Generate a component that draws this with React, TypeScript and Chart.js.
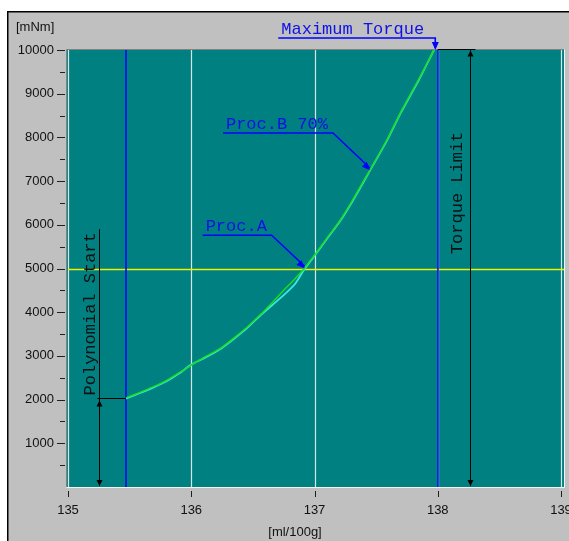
import React, { useEffect, useRef } from 'react';
import { Chart, registerables } from 'chart.js';

Chart.register(...registerables);

// ---- data ----
const xValues = [135.47, 135.58, 135.69, 135.8, 135.9, 136.0, 136.1, 136.23, 136.35, 136.45, 136.56, 136.66, 136.75, 136.84, 136.92, 137.02, 137.1, 137.21, 137.3, 137.4, 137.45, 137.58, 137.7, 137.85, 137.97];
const greenTorque = [2040, 2160, 2290, 2440, 2610, 2790, 2960, 3160, 3420, 3650, 3940, 4230, 4500, 4760, 5010, 5380, 5690, 6110, 6520, 7010, 7254, 7900, 8580, 9350, 10000];
const cyanTorque = [2020, 2145, 2275, 2420, 2595, 2800, 2940, 3145, 3400, 3630, 3925, 4170, 4390, 4640, 4990, 5365, 5675, 6095, 6500, 6990, 7240, 7885, 8560, 9330, 10000];

const xTickValues = [135, 136, 137, 138, 139];
const yTickValues = [0, 1000, 2000, 3000, 4000, 5000, 6000, 7000, 8000, 9000, 10000];
const yMinorStep = 500;

const thresholdTorque = 5000;
const blueMarkerX = [135.47, 138];

const calloutLabels = ['Maximum Torque', 'Proc.B 70%', 'Proc.A'];
const calloutX = [137.98, 137.45, 136.92];
const calloutY = [10000, 7254, 5005];

const polyStartLabel = 'Polynomial Start';
const polyStartX = 135.25;
const polyStartTop = 5900;
const polyStartLevel = 2040;

const torqueLimitLabel = 'Torque Limit';
const torqueLimitX = 138.26;
const torqueLimitLevel = 10000;
const torqueLimitTextY = 6730;

const yUnit = '[mNm]';
const xUnit = '[ml/100g]';

// ---- styles ----
const calloutElbow = [[0, -12], [-37, -37], [-33, -33]];
const calloutLength = [157, 110, 69];
const MONO = '17px "Liberation Mono", "DejaVu Sans Mono", monospace';

function pickSans() {
  const c = document.createElement('canvas').getContext('2d');
  if (!c) return { family: '"Liberation Sans", Arial, sans-serif', size: 13 };
  c.font = '16px "Liberation Sans Narrow", monospace';
  const a = c.measureText('10000 mNm').width;
  c.font = '16px monospace';
  const b = c.measureText('10000 mNm').width;
  if (Math.abs(a - b) > 0.5) return { family: '"Liberation Sans Narrow", Arial, sans-serif', size: 16 };
  return { family: '"Liberation Sans", Arial, sans-serif', size: 13 };
}

function arrowHead(ctx: CanvasRenderingContext2D, tx: number, ty: number, angle: number, len = 7, half = 3) {
  const c = Math.cos(angle), s = Math.sin(angle);
  ctx.beginPath();
  ctx.moveTo(tx, ty);
  ctx.lineTo(tx - len * c + half * s, ty - len * s - half * c);
  ctx.lineTo(tx - len * c - half * s, ty - len * s + half * c);
  ctx.closePath();
  ctx.fill();
}

export default function App() {
  const ref = useRef<HTMLCanvasElement | null>(null);

  useEffect(() => {
    const canvas = ref.current;
    if (!canvas) return;
    const sans = pickSans();
    const sansFont = `${sans.size}px ${sans.family}`;

    const framePlugin = {
      id: 'frame',
      beforeDraw(chart: any) {
        const { ctx, chartArea: a } = chart;
        const W = chart.width, H = chart.height;
        ctx.save();
        ctx.fillStyle = '#ffffff';
        ctx.fillRect(0, 0, W, H);
        ctx.fillStyle = '#c0c0c0';
        ctx.fillRect(8, 12, W - 8, H - 12);
        ctx.fillStyle = '#000000';
        ctx.fillRect(7, 11, W - 7, 1.5);
        ctx.fillRect(7, 11, 1.5, H - 11);
        // plot area
        ctx.fillStyle = '#008080';
        ctx.fillRect(a.left - 1, a.top, a.right - a.left + 4, a.bottom - a.top);
        ctx.lineWidth = 1;
        ctx.strokeStyle = '#808080';
        ctx.beginPath();
        ctx.moveTo(a.left - 1.5, a.bottom);
        ctx.lineTo(a.left - 1.5, a.top - 0.5);
        ctx.lineTo(a.right + 3, a.top - 0.5);
        ctx.stroke();
        ctx.strokeStyle = '#f4f4f4';
        ctx.beginPath();
        ctx.moveTo(a.left - 1.5, a.bottom + 0.5);
        ctx.lineTo(a.right + 3.5, a.bottom + 0.5);
        ctx.lineTo(a.right + 3.5, a.top - 0.5);
        ctx.stroke();
        ctx.restore();
      },
      beforeDatasetsDraw(chart: any) {
        const { ctx, chartArea: a, scales } = chart;
        const x = scales.x, y = scales.y;
        ctx.save();
        // vertical grid lines
        ctx.strokeStyle = '#d8e4e4';
        ctx.lineWidth = 1.2;
        xTickValues.forEach((v) => {
          const px = Math.round(x.getPixelForValue(v)) + 0.5;
          ctx.beginPath();
          ctx.moveTo(px, a.top);
          ctx.lineTo(px, a.bottom);
          ctx.stroke();
        });
        // threshold line
        const py = Math.round(y.getPixelForValue(thresholdTorque)) + 0.5;
        ctx.strokeStyle = '#f0f000';
        ctx.lineWidth = 1.5;
        ctx.beginPath();
        ctx.moveTo(a.left, py);
        ctx.lineTo(a.right + 3, py);
        ctx.stroke();
        // blue markers
        ctx.strokeStyle = '#0000ff';
        ctx.lineWidth = 1.5;
        blueMarkerX.forEach((v) => {
          const px = Math.round(x.getPixelForValue(v));
          ctx.beginPath();
          ctx.moveTo(px, a.top);
          ctx.lineTo(px, a.bottom);
          ctx.stroke();
        });
        // y tick marks
        ctx.strokeStyle = '#202020';
        ctx.lineWidth = 1;
        for (let v = yMinorStep; v <= 10000; v += yMinorStep) {
          const ty = Math.round(y.getPixelForValue(v)) + 0.5;
          const major = v % 1000 === 0;
          ctx.beginPath();
          ctx.moveTo(a.left - (major ? 11 : 8), ty);
          ctx.lineTo(a.left - 3, ty);
          ctx.stroke();
        }
        // x tick marks
        xTickValues.forEach((v) => {
          const tx = Math.round(x.getPixelForValue(v)) + 0.5;
          ctx.beginPath();
          ctx.moveTo(tx, a.bottom + 4);
          ctx.lineTo(tx, a.bottom + 10);
          ctx.stroke();
        });
        ctx.restore();
      },
      afterDatasetsDraw(chart: any) {
        const { ctx, chartArea: a, scales } = chart;
        const x = scales.x, y = scales.y;
        ctx.save();
        // callouts
        ctx.font = MONO;
        ctx.textBaseline = 'alphabetic';
        ctx.textAlign = 'left';
        calloutLabels.forEach((label, i) => {
          const tx = x.getPixelForValue(calloutX[i]);
          const ty = y.getPixelForValue(calloutY[i]);
          const ex = tx + calloutElbow[i][0];
          const ey = ty + calloutElbow[i][1];
          const lx = ex - calloutLength[i];
          ctx.strokeStyle = '#0000ff';
          ctx.fillStyle = '#0000ff';
          ctx.lineWidth = 1.6;
          ctx.beginPath();
          ctx.moveTo(lx, ey);
          ctx.lineTo(ex, ey);
          ctx.lineTo(tx, ty - 2);
          ctx.stroke();
          arrowHead(ctx, tx, ty, Math.atan2(ty - ey, tx - ex), 8, 3.5);
          ctx.fillStyle = '#1010e8';
          ctx.fillText(label, lx + 3, ey - 4);
        });

        // dimension lines
        ctx.strokeStyle = '#000000';
        ctx.fillStyle = '#000000';
        ctx.lineWidth = 1;
        // polynomial start
        {
          const lx = Math.round(x.getPixelForValue(polyStartX)) + 0.5;
          const top = y.getPixelForValue(polyStartTop);
          const lvl = Math.round(y.getPixelForValue(polyStartLevel)) + 0.5;
          const bot = y.getPixelForValue(0);
          ctx.beginPath();
          ctx.moveTo(lx, top);
          ctx.lineTo(lx, bot - 1);
          ctx.moveTo(lx - 2, lvl);
          ctx.lineTo(x.getPixelForValue(blueMarkerX[0]), lvl);
          ctx.stroke();
          arrowHead(ctx, lx, lvl + 2, -Math.PI / 2, 6, 3);
          arrowHead(ctx, lx, bot - 1, Math.PI / 2, 6, 3);
          ctx.save();
          ctx.translate(lx - 9, (top + lvl) / 2);
          ctx.rotate(-Math.PI / 2);
          ctx.textAlign = 'center';
          ctx.textBaseline = 'middle';
          ctx.font = MONO;
          ctx.fillStyle = '#101010';
          ctx.fillText(polyStartLabel, 0, 0);
          ctx.restore();
        }
        // torque limit
        {
          const lx = Math.round(x.getPixelForValue(torqueLimitX)) + 0.5;
          const top = Math.round(y.getPixelForValue(torqueLimitLevel)) - 0.5;
          const bot = y.getPixelForValue(0);
          ctx.beginPath();
          ctx.moveTo(lx, top);
          ctx.lineTo(lx, bot - 1);
          ctx.moveTo(x.getPixelForValue(blueMarkerX[1]), top);
          ctx.lineTo(lx + 5, top);
          ctx.stroke();
          arrowHead(ctx, lx, top + 1, -Math.PI / 2, 6, 3);
          arrowHead(ctx, lx, bot - 1, Math.PI / 2, 6, 3);
          ctx.save();
          ctx.translate(lx - 13, y.getPixelForValue(torqueLimitTextY));
          ctx.rotate(-Math.PI / 2);
          ctx.textAlign = 'center';
          ctx.textBaseline = 'middle';
          ctx.font = MONO;
          ctx.fillStyle = '#101010';
          ctx.fillText(torqueLimitLabel, 0, 0);
          ctx.restore();
        }
        ctx.restore();
      },
      afterDraw(chart: any) {
        const { ctx } = chart;
        ctx.save();
        ctx.font = sansFont;
        ctx.fillStyle = '#111111';
        ctx.textBaseline = 'middle';
        ctx.textAlign = 'left';
        ctx.fillText(yUnit, 16, 27);
        ctx.textAlign = 'center';
        ctx.fillText(xUnit, 295, 532);
        ctx.restore();
      },
    };

    const chart = new Chart(canvas, {
      type: 'line',
      data: {
        datasets: [
          {
            data: xValues.map((v, i) => ({ x: v, y: greenTorque[i] })),
            borderColor: '#18e018',
            borderWidth: 1.5,
            pointRadius: 0,
            tension: 0.2,
            fill: false,
          },
          {
            data: xValues.map((v, i) => ({ x: v, y: cyanTorque[i] })),
            borderColor: '#38e8e8',
            borderWidth: 1.8,
            pointRadius: 0,
            tension: 0.2,
            fill: false,
          },
        ],
      },
      options: {
        responsive: false,
        animation: false,
        events: [],
        layout: { padding: { left: 8, top: 50, right: 8, bottom: 0 } },
        plugins: { legend: { display: false }, tooltip: { enabled: false } },
        scales: {
          x: {
            type: 'linear',
            min: 135,
            max: 139,
            afterBuildTicks: (s: any) => {
              s.ticks = xTickValues.map((v) => ({ value: v }));
            },
            ticks: {
              color: '#111111',
              font: { family: sans.family, size: sans.size },
              padding: 16,
              maxRotation: 0,
              autoSkip: false,
            },
            grid: { display: false, drawTicks: false },
            border: { display: false },
            afterFit: (s: any) => {
              s.height = 54;
              s.paddingLeft = 0;
              s.paddingRight = 0;
            },
          },
          y: {
            min: 0,
            max: 10000,
            afterBuildTicks: (s: any) => {
              s.ticks = yTickValues.map((v) => ({ value: v }));
            },
            ticks: {
              color: '#111111',
              font: { family: sans.family, size: sans.size },
              padding: 14,
              autoSkip: false,
              callback: (v: any) => (v === 0 ? '' : String(v)),
            },
            grid: { display: false, drawTicks: false },
            border: { display: false },
            afterFit: (s: any) => {
              s.width = 60;
              s.paddingTop = 0;
              s.paddingBottom = 0;
            },
          },
        },
      },
      plugins: [framePlugin],
    } as any);

    return () => chart.destroy();
  }, []);

  return (
    <div style={{ position: 'fixed', left: 0, top: 0, width: 569, height: 541 }}>
      <canvas ref={ref} width={569} height={541} style={{ display: 'block', width: 569, height: 541 }} />
    </div>
  );
}
